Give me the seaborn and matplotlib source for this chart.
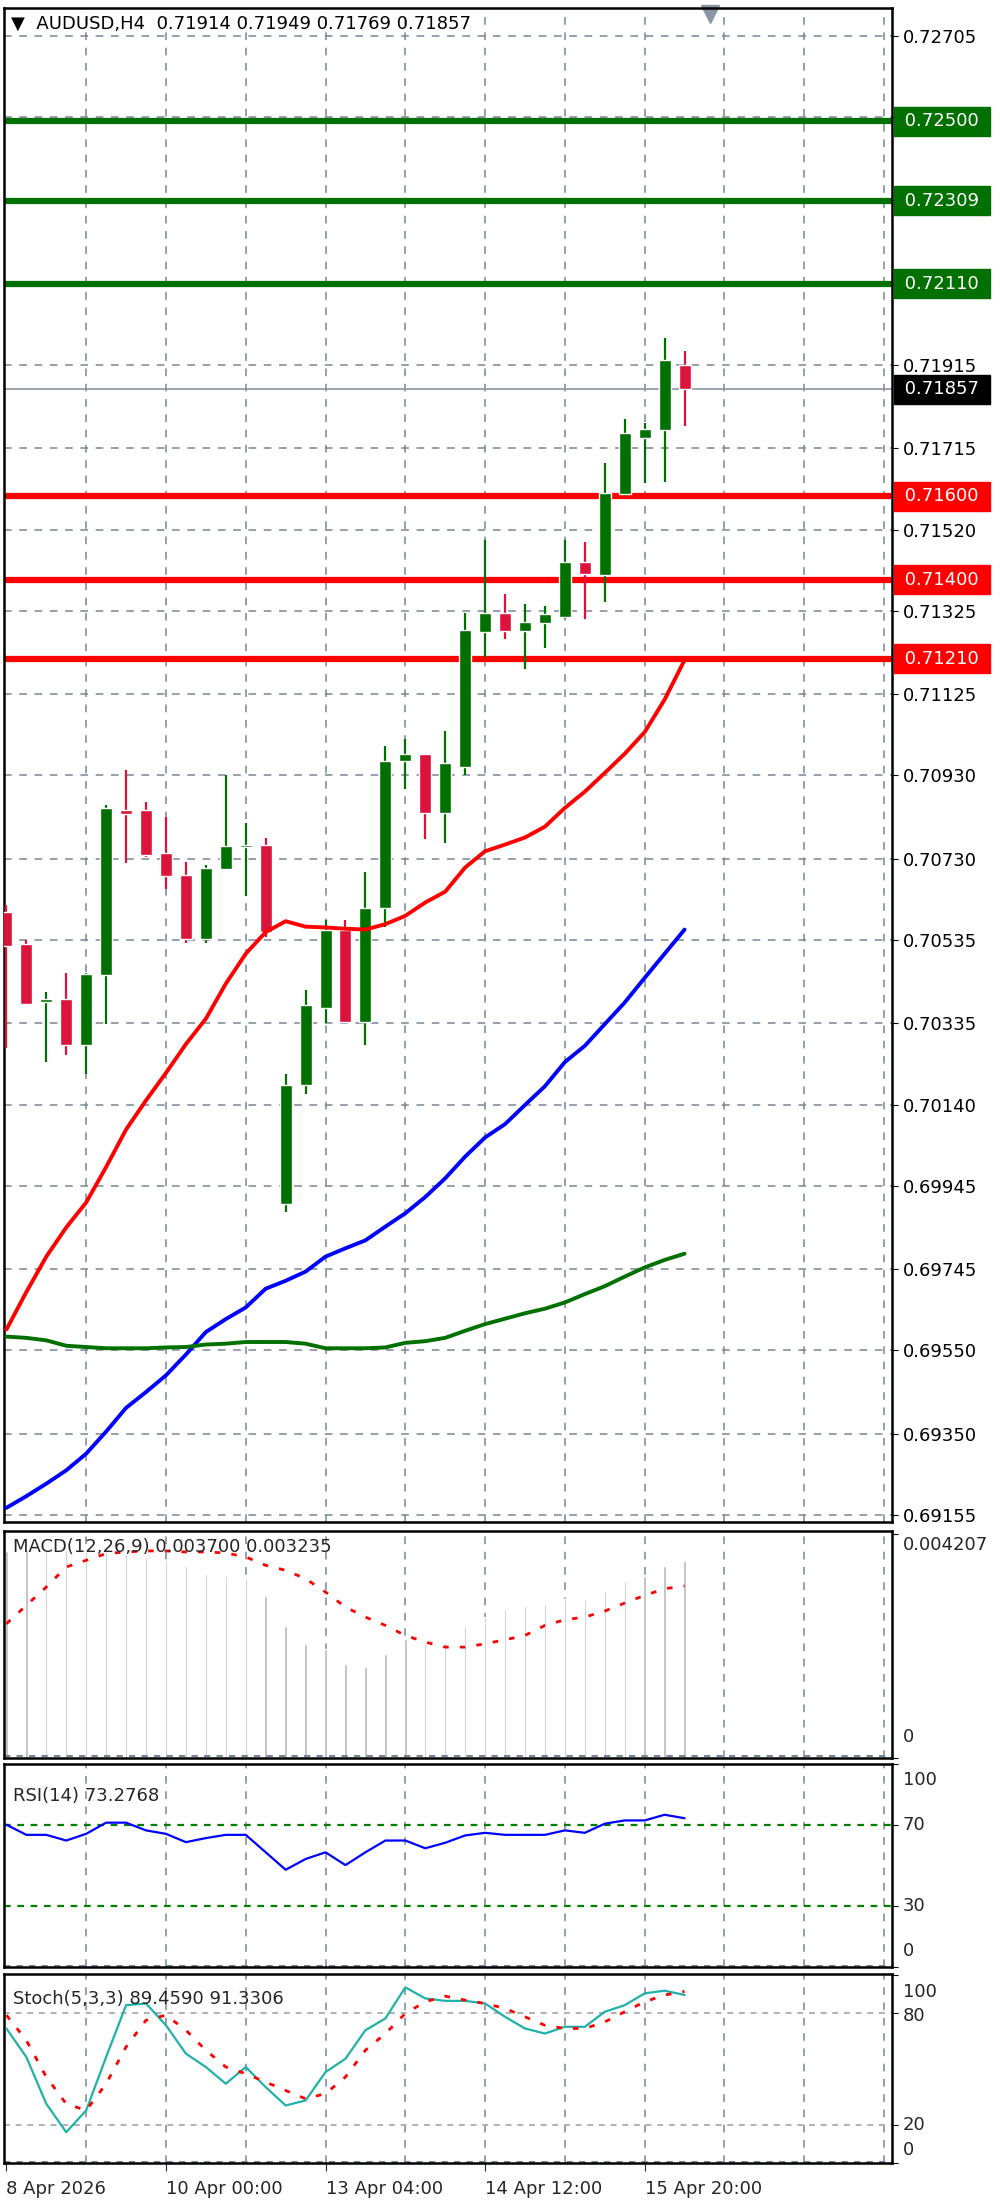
import matplotlib
matplotlib.use("Agg")
import matplotlib.pyplot as plt
import matplotlib.transforms as mtrans
import seaborn as sns
import numpy as np
import pandas as pd

sns.set_style("white")
plt.rcParams['font.family'] = ['DejaVu Sans']

# ---------------- data ----------------
opens  = [0.70602,0.70525,0.70386,0.70394,0.70284,0.70450,0.70846,0.70846,0.70744,0.70690,
          0.70537,0.70705,0.70758,0.70764,0.69902,0.70188,0.70372,0.70560,0.70339,0.70612,
          0.70965,0.70982,0.70839,0.70949,0.71275,0.71321,0.71276,0.71297,0.71310,0.71442,
          0.71410,0.71606,0.71741,0.71759,0.71914]
highs  = [0.70619,0.70534,0.70411,0.70456,0.70456,0.70859,0.70943,0.70865,0.70829,0.70722,
          0.70716,0.70930,0.70816,0.70779,0.70214,0.70415,0.70582,0.70582,0.70697,0.71001,
          0.71018,0.70982,0.71036,0.71321,0.71495,0.71366,0.71342,0.71336,0.71495,0.71490,
          0.71680,0.71786,0.71777,0.71981,0.71949]
lows   = [0.70275,0.70378,0.70242,0.70259,0.70214,0.70333,0.70720,0.70733,0.70658,0.70528,
          0.70528,0.70702,0.70641,0.70541,0.69883,0.70165,0.70336,0.70337,0.70284,0.70567,
          0.70898,0.70777,0.70768,0.70930,0.71215,0.71257,0.71185,0.71236,0.71305,0.71305,
          0.71347,0.71601,0.71632,0.71634,0.71769]
closes = [0.70521,0.70381,0.70394,0.70284,0.70453,0.70852,0.70837,0.70738,0.70689,0.70538,
          0.70708,0.70761,0.70763,0.70554,0.70188,0.70379,0.70560,0.70337,0.70612,0.70965,
          0.70982,0.70839,0.70959,0.71278,0.71321,0.71276,0.71299,0.71318,0.71442,0.71413,
          0.71608,0.71751,0.71762,0.71926,0.71857]
ma_red = [0.69600,0.69690,0.69775,0.69845,0.69905,0.69990,0.70080,0.70150,0.70216,0.70285,
          0.70346,0.70430,0.70502,0.70554,0.70580,0.70567,0.70565,0.70562,0.70560,0.70573,
          0.70593,0.70625,0.70651,0.70709,0.70748,0.70764,0.70781,0.70807,0.70852,0.70891,
          0.70936,0.70982,0.71034,0.71112,0.71207]
ma_blue = [0.69172,0.69200,0.69230,0.69262,0.69302,0.69355,0.69412,0.69450,0.69490,0.69540,
           0.69594,0.69625,0.69653,0.69698,0.69717,0.69739,0.69775,0.69795,0.69814,0.69847,
           0.69879,0.69918,0.69963,0.70015,0.70061,0.70093,0.70139,0.70184,0.70242,0.70281,
           0.70333,0.70385,0.70444,0.70502,0.70560]
ma_green = [0.69583,0.69580,0.69574,0.69561,0.69558,0.69555,0.69555,0.69555,0.69557,0.69558,
            0.69564,0.69566,0.69570,0.69570,0.69570,0.69566,0.69555,0.69555,0.69555,0.69557,
            0.69568,0.69572,0.69580,0.69597,0.69613,0.69626,0.69639,0.69650,0.69665,0.69685,
            0.69704,0.69727,0.69749,0.69767,0.69782]
macd_hist = [0.003900,0.003907,0.003907,0.003907,0.003895,0.003876,0.003845,0.003782,0.003719,0.003606,
             0.003468,0.003417,0.003373,0.003040,0.002475,0.002148,0.002054,0.001771,0.001721,0.001960,
             0.002243,0.002148,0.002180,0.002475,0.002651,0.002808,0.002852,0.002902,0.002996,0.002996,
             0.003141,0.003323,0.003417,0.003606,0.003700]
macd_signal = [0.002525,0.002871,0.003216,0.003593,0.003719,0.003845,0.003876,0.003895,0.003895,0.003876,
               0.003876,0.003857,0.003782,0.003625,0.003530,0.003373,0.003122,0.002840,0.002651,0.002494,
               0.002305,0.002180,0.002086,0.002086,0.002148,0.002224,0.002305,0.002494,0.002601,0.002651,
               0.002764,0.002915,0.003059,0.003185,0.003235]
rsi = [70.1,65.1,65.1,62.3,65.6,71.1,71.1,67.3,65.6,61.5,63.5,65.1,65.1,56.5,47.9,53.2,56.5,50.2,56.5,62.3,
       62.3,58.5,61.2,64.8,66.1,65.1,65.1,65.1,67.3,66.1,70.6,72.2,72.2,75.0,73.28]
stoch_k = [71.6,56.4,31.5,16.4,28.0,56.4,84.0,84.9,73.3,58.2,51.1,42.2,51.1,40.4,30.6,33.3,48.4,55.5,70.7,76.9,
           93.5,87.6,86.3,86.3,84.9,77.8,71.6,68.9,72.5,72.5,80.5,84.0,90.3,91.7,89.459]
stoch_d = [78.7,65.3,45.8,31.5,28.0,42.2,61.8,76.0,78.7,70.7,60.0,51.1,47.5,43.1,38.6,34.2,36.9,45.8,60.0,68.9,
           79.6,85.8,88.8,86.7,84.9,82.3,77.8,73.3,71.6,71.6,75.1,80.5,85.8,89.4,91.33]
price_ticks = [0.72705,0.72510,0.72310,0.72110,0.71915,0.71715,0.71520,0.71325,0.71125,0.70930,0.70730,
               0.70535,0.70335,0.70140,0.69945,0.69745,0.69550,0.69350,0.69155]
resist_levels = [0.72500,0.72309,0.72110]
support_levels = [0.71600,0.71400,0.71210]
last_price = 0.71857
date_labels = ["8 Apr 2026", "10 Apr 00:00", "13 Apr 04:00", "14 Apr 12:00", "15 Apr 20:00"]
date_pos = [0, 8, 16, 24, 32]
rsi_labels = ["100", "70", "30", "0"]
stoch_labels = ["100", "80", "20", "0"]

idx = np.arange(len(opens))
df = pd.DataFrame(dict(i=idx, o=opens, h=highs, l=lows, c=closes, red=ma_red, blue=ma_blue,
                       green=ma_green, mh=macd_hist, sig=macd_signal, rsi=rsi, k=stoch_k, d=stoch_d))

W, H = 1000, 2207
fig = plt.figure(figsize=(W/100, H/100), dpi=100)
def axpx(l, t, r, b):
    return fig.add_axes([l/W, 1-b/H, (r-l)/W, (b-t)/H])

GREEN = "#007000"; CRIM = "#DC143C"; GRID = "#7a8595"
XL = (-0.12, 44.4)
FS = 13

def style(ax):
    ax.set_xlim(*XL)
    for s in ax.spines.values():
        s.set_color("black"); s.set_linewidth(1.8)
    for k in range(4, 45, 4):
        ax.axvline(k, color=GRID, lw=1.1, ls=(0, (5, 5)), zorder=0)
    ax.set_xticks([])
    ax.yaxis.tick_right()
    ax.tick_params(axis='y', length=4, labelsize=FS, pad=4, colors='black')

def side_labels(ax, ticks, labels, label_pos):
    ax.set_yticks(ticks)
    ax.set_yticklabels([""] * len(ticks))
    tr = mtrans.blended_transform_factory(ax.transAxes, ax.transData)
    for lab, y in zip(labels, label_pos):
        ax.text(1.012, y, lab, transform=tr, ha='left', va='center', fontsize=FS, clip_on=False)

# ------------- main -------------
ax = axpx(4, 8, 892, 1522)
style(ax)
ax.set_ylim(0.69138, 0.72772)
for p in price_ticks:
    ax.axhline(p, color=GRID, lw=1.1, ls=(0, (5, 5)), zorder=0)
ax.set_yticks(price_ticks)
ax.set_yticklabels(["" if p in (0.72510, 0.72310, 0.72110) else f"{p:.5f}" for p in price_ticks])

for p in resist_levels:
    ax.axhline(p, color=GREEN, lw=4.5, zorder=2)
for p in support_levels:
    ax.axhline(p, color="#ff0000", lw=4.5, zorder=2)
ax.axhline(last_price, color="#8a96a3", lw=1.2, zorder=1)

for _, r in df.iterrows():
    col = GREEN if r.c >= r.o else CRIM
    ax.vlines(r.i, r.l, r.h, color=col, lw=1.6, zorder=3)
    ax.bar(r.i, max(abs(r.c - r.o), 0.00004), bottom=min(r.o, r.c), width=0.6, color=col, zorder=4)

sns.lineplot(data=df, x="i", y="red", ax=ax, color="#ff0000", lw=2.8, zorder=5)
sns.lineplot(data=df, x="i", y="blue", ax=ax, color="#0000ff", lw=2.8, zorder=5)
sns.lineplot(data=df, x="i", y="green", ax=ax, color=GREEN, lw=2.8, zorder=5)
ax.set_xlabel(""); ax.set_ylabel("")

tr = mtrans.blended_transform_factory(ax.transAxes, ax.transData)
for p, fc in [(p, GREEN) for p in resist_levels] + [(p, "#ff0000") for p in support_levels] + [(last_price, "black")]:
    ax.text(1.008, p, f" {p:.5f} ", transform=tr, ha='left', va='center', fontsize=FS, color='white',
            bbox=dict(boxstyle="square,pad=0.3", fc=fc, ec=fc), zorder=10, clip_on=False)
ax.text(0.008, 0.9955, "▼  AUDUSD,H4  0.71914 0.71949 0.71769 0.71857", transform=ax.transAxes,
        ha='left', va='top', fontsize=FS, color='black')
ax.plot([0.795], [0.996], transform=ax.transAxes, marker='v', ms=13, color="#8a96a3", clip_on=False)

# ------------- MACD -------------
ax2 = axpx(4, 1531, 892, 1758)
style(ax2)
ax2.set_ylim(0, 0.00427)
ax2.bar(df["i"], df["mh"], width=0.12, color="#b8b8b8", zorder=2)
sns.lineplot(data=df, x="i", y="sig", ax=ax2, color="#ff0000", lw=2, ls=(0, (2, 4)), zorder=3)
ax2.set_xlabel(""); ax2.set_ylabel("")
side_labels(ax2, [0.004207, 0], ["0.004207", "0"], [0.0040, 0.0004])
ax2.text(0.01, 0.93, "MACD(12,26,9) 0.003700 0.003235", transform=ax2.transAxes, ha='left', va='center', fontsize=FS)
ax2.axhline(0.00003, color=GRID, lw=1.5, ls=(0, (3, 3)))

# ------------- RSI -------------
ax3 = axpx(4, 1764, 892, 1967)
style(ax3)
ax3.set_ylim(0, 100)
for v in (70, 30):
    ax3.axhline(v, color="#008000", lw=1.6, ls=(0, (3, 3)))
sns.lineplot(data=df, x="i", y="rsi", ax=ax3, color="#0000ff", lw=1.6, zorder=3)
ax3.set_xlabel(""); ax3.set_ylabel("")
side_labels(ax3, [100, 70, 30, 0], rsi_labels, [92, 70, 30, 8])
ax3.text(0.01, 0.84, "RSI(14) 73.2768", transform=ax3.transAxes, ha='left', va='center', fontsize=FS)
ax3.axhline(0.5, color=GRID, lw=1.5, ls=(0, (3, 3)))

# ------------- Stoch -------------
ax4 = axpx(4, 1974, 892, 2163)
style(ax4)
ax4.set_ylim(0, 100.6)
for v in (80, 20):
    ax4.axhline(v, color="#b0b0b0", lw=1.4, ls=(0, (3, 3)))
sns.lineplot(data=df, x="i", y="k", ax=ax4, color="#20b2aa", lw=1.6, zorder=3)
sns.lineplot(data=df, x="i", y="d", ax=ax4, color="#ff0000", lw=2, ls=(0, (2, 4)), zorder=3)
ax4.set_xlabel(""); ax4.set_ylabel("")
side_labels(ax4, [100, 80, 20, 0], stoch_labels, [91, 78, 20, 7])
ax4.text(0.01, 0.87, "Stoch(5,3,3) 89.4590 91.3306", transform=ax4.transAxes, ha='left', va='center', fontsize=FS)
ax4.axhline(0.5, color=GRID, lw=1.5, ls=(0, (3, 3)))
ax4.set_xticks(date_pos)
ax4.set_xticklabels(date_labels, ha='left', fontsize=FS)
ax4.tick_params(axis='x', length=6, pad=6, direction='out', bottom=True)
ax4.set_xlim(*XL)

fig.savefig("out.png", dpi=100, facecolor="white")
